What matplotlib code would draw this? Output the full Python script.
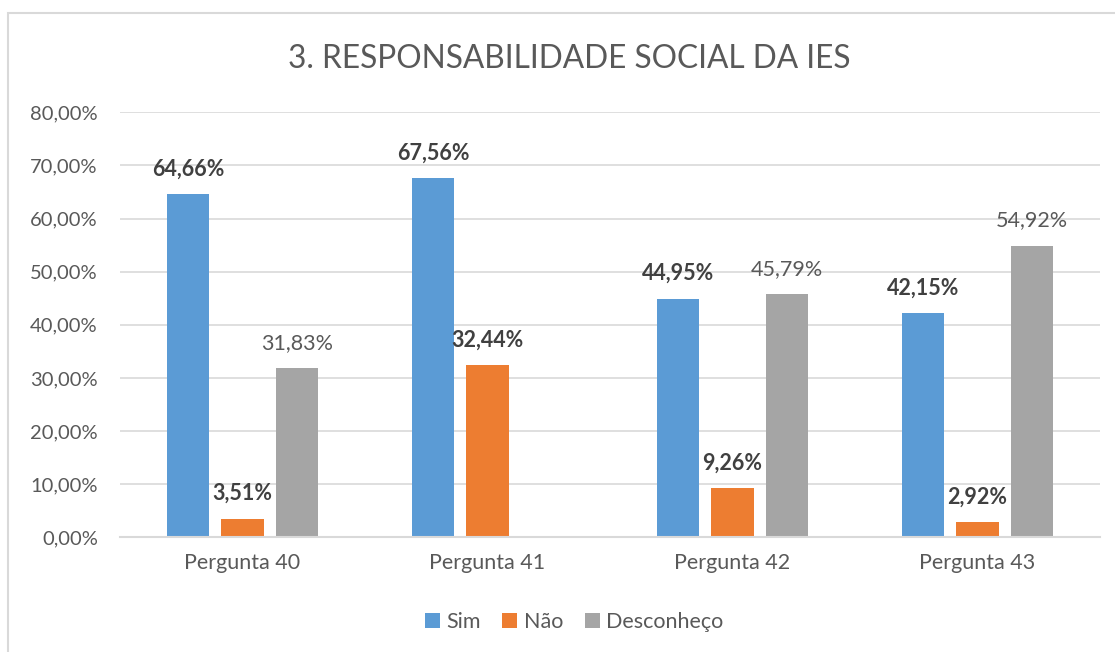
import matplotlib
matplotlib.use("Agg")
import matplotlib.pyplot as plt
import numpy as np
from matplotlib.patches import Rectangle, Patch

plt.rcParams['font.family'] = ['Lato', 'DejaVu Sans']

categories = ["Pergunta 40", "Pergunta 41", "Pergunta 42", "Pergunta 43"]
series_names = ["Sim", "Não", "Desconheço"]
sim = [64.66, 67.56, 44.95, 42.15]
nao = [3.51, 32.44, 9.26, 2.92]
desconheco = [31.83, np.nan, 45.79, 54.92]
yticks = [0, 10, 20, 30, 40, 50, 60, 70, 80]
title = "3. RESPONSABILIDADE SOCIAL DA IES"

colors = ["#5B9BD5", "#ED7D31", "#A5A5A5"]
weights = ["bold", "bold", "normal"]
W, H = 1115, 652
fig = plt.figure(figsize=(W / 100, H / 100), dpi=100)
fig.patch.set_facecolor("white")

# chart border
fig.add_artist(Rectangle((8 / W, -0.1), 1.2, (H - 13) / H + 0.1, transform=fig.transFigure,
                         fill=False, edgecolor="#D9D9D9", linewidth=1.5))

ax = fig.add_axes([120 / W, (H - 537.3) / H, (1100 - 120) / W, (537.3 - 112.3) / H])
x = np.arange(len(categories))
bw = 0.1735
step = 0.2225
data = [sim, nao, desconheco]
for i, (vals, col, wt) in enumerate(zip(data, colors, weights)):
    xs = x + (i - 1) * step
    v = np.array(vals, dtype=float)
    ax.bar(xs, v, width=bw, color=col, zorder=2)
    for xx, vv in zip(xs, v):
        if np.isnan(vv):
            continue
        ax.annotate(f"{vv:.2f}%".replace(".", ","), (xx, vv), xytext=(0, 18),
                    textcoords="offset points", ha="center", va="center",
                    fontsize=15.5, fontweight=wt,
                    color="#404040" if wt == "bold" else "#595959", zorder=3)

ax.set_xlim(-0.5, len(categories) - 0.5)
ax.set_ylim(0, 80)
ax.set_yticks(yticks)
ax.set_yticklabels([f"{t:.2f}%".replace(".", ",") for t in yticks])
ax.set_xticks(x)
ax.set_xticklabels(categories)
ax.tick_params(axis="y", length=0, labelsize=14.5, labelcolor="#595959", pad=16)
ax.tick_params(axis="x", length=0, labelsize=15.5, labelcolor="#595959", pad=11)
ax.grid(axis="y", color="#D9D9D9", linewidth=1.2, zorder=0)
ax.set_axisbelow(True)
for s in ["top", "right", "left"]:
    ax.spines[s].set_visible(False)
ax.spines["bottom"].set_color("#D9D9D9")
ax.spines["bottom"].set_linewidth(1.5)
ax.spines["bottom"].set_zorder(3)

fig.text(569 / W, (H - 59) / H, title, ha="center", va="center", fontsize=22.8, color="#595959")

handles = [Patch(facecolor=c, edgecolor="none") for c in colors]
fig.legend(handles, series_names, loc="center", bbox_to_anchor=(574 / W, (H - 622) / H),
           ncol=3, frameon=False, fontsize=15.5, labelcolor="#595959",
           handlelength=0.7, handleheight=0.7, handletextpad=0.3, columnspacing=1.0)

fig.savefig("out.png", dpi=100, facecolor="white")
